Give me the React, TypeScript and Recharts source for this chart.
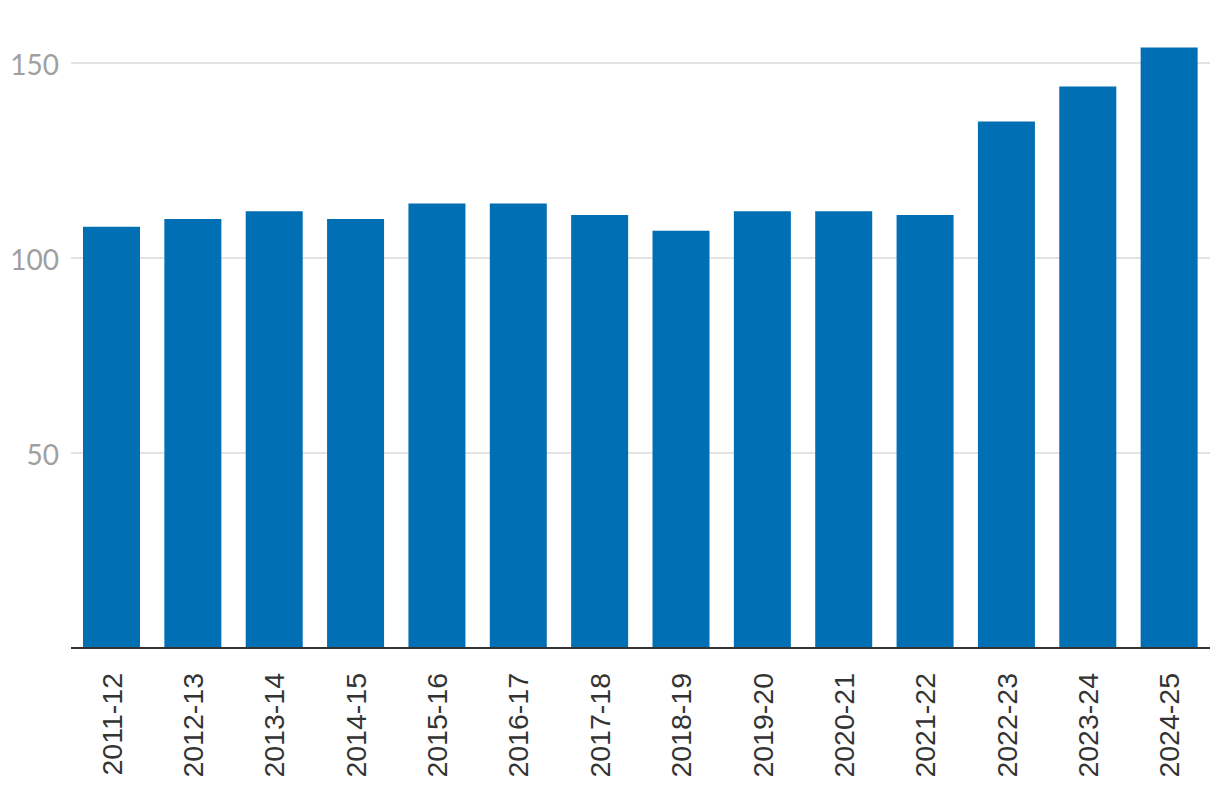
import React from "react";
import { BarChart, Bar, XAxis, YAxis, CartesianGrid } from "recharts";

const categories = ["2011-12","2012-13","2013-14","2014-15","2015-16","2016-17","2017-18","2018-19","2019-20","2020-21","2021-22","2022-23","2023-24","2024-25"];
const values = [108, 110, 112, 110, 114, 114, 111, 107, 112, 112, 111, 135, 144, 154];
const yTicks = [50, 100, 150];

const data = categories.map((c, i) => ({ name: c, value: values[i] }));

const XTick = (props: any) => {
  const { x, y, payload } = props;
  return (
    <g transform={`translate(${x},${y})`}>
      <text
        transform="rotate(-90)"
        x={-17}
        y={0}
        dy={10}
        textAnchor="end"
        fill="#333333"
        fontSize={28.5}
        fontFamily="'Liberation Sans', Arial, sans-serif"
      >
        {payload.value}
      </text>
    </g>
  );
};

export default function App() {
  return (
    <div style={{ position: "fixed", left: 0, top: 0, width: 1220, height: 790, background: "#fff" }}>
      <BarChart
        width={1220}
        height={790}
        data={data}
        margin={{ top: 24, right: 10, left: 0, bottom: 0 }}
        barCategoryGap="30%"
      >
        <CartesianGrid vertical={false} horizontalValues={yTicks} stroke="#e3e3e3" strokeWidth={2} />
        <XAxis
          dataKey="name"
          interval={0}
          height={142}
          tickLine={false}
          axisLine={{ stroke: "#333333", strokeWidth: 2 }}
          tick={<XTick />}
        />
        <YAxis
          domain={[0, 160]}
          ticks={yTicks}
          width={71}
          axisLine={false}
          tickLine={false}
          tickMargin={6}
          tick={{ fill: "#a0a0a0", fontSize: 28, fontFamily: "Lato, sans-serif", dy: 2 }}
        />
        <Bar dataKey="value" fill="#006fb3" barSize={57} isAnimationActive={false} />
      </BarChart>
    </div>
  );
}
